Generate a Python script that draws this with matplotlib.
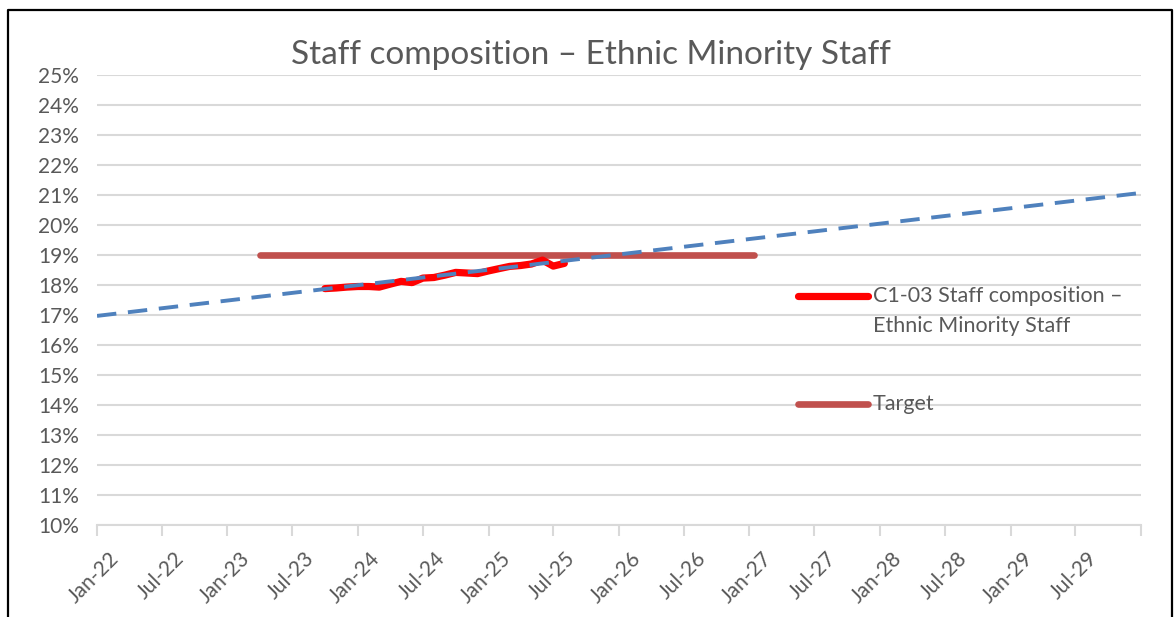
import matplotlib
matplotlib.use("Agg")
import matplotlib.pyplot as plt
from matplotlib.lines import Line2D
import matplotlib.transforms as mtrans
import pandas as pd

# data
staff_dates = pd.date_range("2023-10-01", "2025-08-01", freq="MS")
staff_pct = [17.88, 17.90, 17.93, 17.95, 17.95, 17.93, 18.03, 18.12, 18.08, 18.23,
             18.25, 18.33, 18.42, 18.40, 18.38, 18.47, 18.55, 18.62, 18.65, 18.70,
             18.83, 18.63, 18.72]
target_dates = pd.to_datetime(["2023-04-01", "2027-01-15"])
target_pct = [19.0, 19.0]
trend_dates = pd.to_datetime(["2022-01-01", "2030-01-01"])
trend_pct = [16.97, 21.07]
tick_dates = pd.date_range("2022-01-01", "2030-01-01", freq="6MS")
tick_labels = [d.strftime("%b-%y") for d in tick_dates[:-1]] + [""]
y_ticks = list(range(10, 26))

title = "Staff composition \u2013 Ethnic Minority Staff"
label_staff = "C1-03 Staff composition \u2013"
label_staff2 = "Ethnic Minority Staff"
label_target = "Target"

plt.rcParams['font.family'] = ['Lato', 'DejaVu Sans']
txt = '#595959'
grid_c = '#D9D9D9'
fs = 15

fig = plt.figure(figsize=(11.75, 6.17), dpi=100)
ax = fig.add_axes([97/1175, 1 - 525/617, 1044/1175, 450/617])

ax.plot(trend_dates, trend_pct, color='#4F81BD', lw=2.8, ls=(0, (5, 3)), zorder=4)
ax.plot(target_dates, target_pct, color='#C0504D', lw=4.8, solid_capstyle='round', zorder=3)
ax.plot(staff_dates, staff_pct, color='#FF0000', lw=5.2, solid_capstyle='round',
        solid_joinstyle='round', zorder=3)

ax.set_xlim(trend_dates[0], trend_dates[-1])
ax.set_ylim(10, 25)
ax.set_yticks(y_ticks)
ax.set_yticklabels([f"{v}%" for v in y_ticks])
ax.set_xticks(tick_dates)
ax.set_xticklabels(tick_labels, rotation=45, ha='right', va='top', rotation_mode='anchor')
ax.grid(axis='y', color=grid_c, lw=1.5, zorder=0)
ax.set_axisbelow(True)
for s in ['top', 'right', 'left']:
    ax.spines[s].set_visible(False)
ax.spines['bottom'].set_color(grid_c)
ax.spines['bottom'].set_linewidth(1.5)
ax.tick_params(axis='x', colors=grid_c, length=8, width=1.5, labelcolor=txt,
               labelsize=fs, pad=9)
ax.tick_params(axis='y', length=0, labelcolor=txt, labelsize=fs, pad=13)
for lab in ax.get_xticklabels():
    lab.set_transform(lab.get_transform() + mtrans.ScaledTranslation(12/100, 0, fig.dpi_scale_trans))

# legend drawn by hand to match the layout
x0, x1, xt = (798 - 97) / 1044, (868 - 97) / 1044, (873 - 97) / 1044
y_staff, y_staff2, y_target = (525 - 296) / 450, (525 - 326) / 450, (525 - 404) / 450
ax.add_line(Line2D([x0, x1], [y_staff, y_staff], transform=ax.transAxes, color='#FF0000',
                   lw=5.2, solid_capstyle='round', clip_on=False))
ax.add_line(Line2D([x0, x1], [y_target, y_target], transform=ax.transAxes, color='#C0504D',
                   lw=4.8, solid_capstyle='round', clip_on=False))
ax.text(xt, y_staff, label_staff, transform=ax.transAxes, color=txt, fontsize=15.5, va='center')
ax.text(xt, y_staff2, label_staff2, transform=ax.transAxes, color=txt, fontsize=15.5, va='center')
ax.text(xt, y_target, label_target, transform=ax.transAxes, color=txt, fontsize=15.5, va='center')

fig.text(591/1175, 1 - 55/617, title, color=txt, fontsize=24, ha='center', va='center')

# outer frame (no bottom edge visible in the reference)
fx0, fx1, fy = 8/1175, 1172/1175, 1 - 10/617
fig.add_artist(Line2D([fx0, fx0, fx1, fx1], [0, fy, fy, 0], transform=fig.transFigure,
                      color='black', lw=1.6))

fig.savefig("out.png", dpi=100)
